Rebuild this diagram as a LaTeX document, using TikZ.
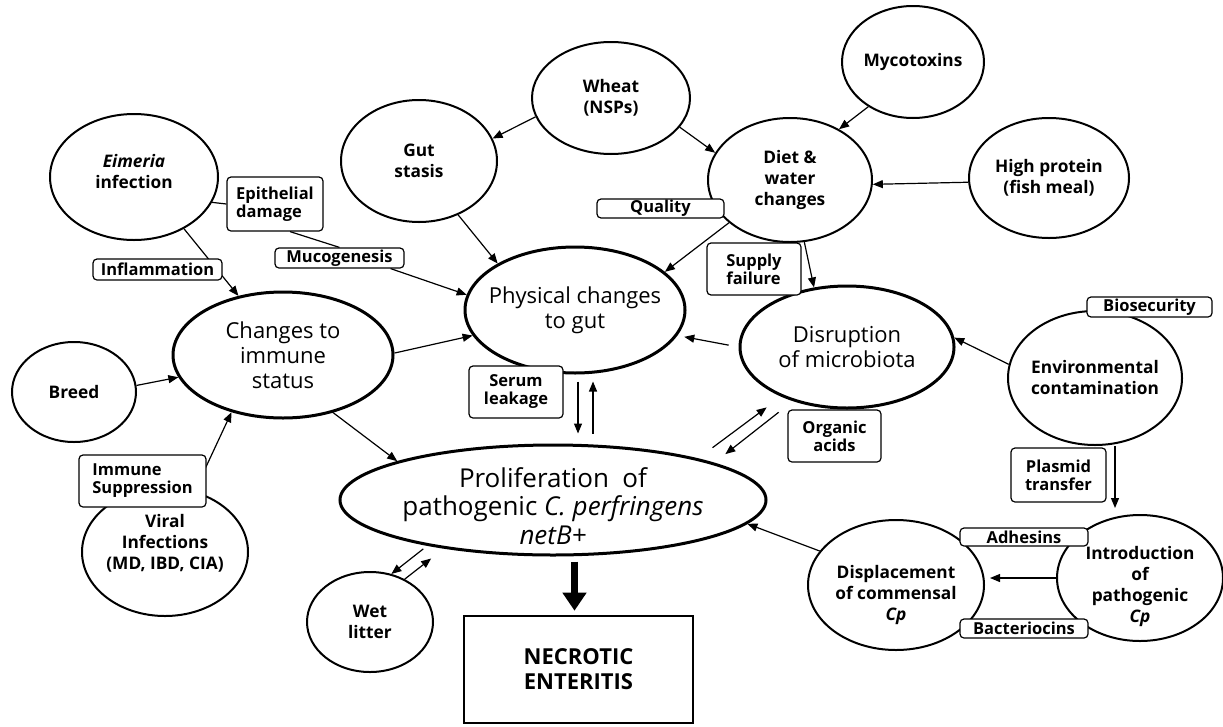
\documentclass[tikz,border=0pt]{standalone}
\usepackage{fontspec}
\setmainfont{Open Sans}
\usetikzlibrary{shapes.geometric,arrows.meta}

\begin{document}
\begin{tikzpicture}[x=1pt,y=-1pt,
  circ/.style={draw,ellipse,line width=2pt,inner sep=-20pt,align=center,
    font=\fontsize{17.3}{21}\selectfont\bfseries},
  bigcirc/.style={circ,line width=3pt,font=\fontsize{22}{25}\selectfont},
  tag/.style={draw,fill=white,rounded corners=4pt,line width=1.2pt,inner sep=0pt,
    align=center,font=\fontsize{16.5}{18}\selectfont\bfseries},
  arr/.style={-{Triangle[length=10pt,width=8pt]},line width=1.2pt},
  link/.style={line width=1.2pt}]
\path[fill=white] (0,0) rectangle (1223,726);
\useasboundingbox (0,0) rectangle (1223,726);

\node[circ,minimum width=168pt,minimum height=126pt] (eimeria) at (134,177) {\textit{Eimeria}\\infection\rule[-12pt]{0pt}{0pt}};
\node[circ,minimum width=156pt,minimum height=122pt] (gut) at (419,161) {Gut\\stasis};
\node[circ,minimum width=158pt,minimum height=112pt] (wheat) at (611,98) {Wheat\\(NSPs)};
\node[circ,minimum width=164pt,minimum height=124pt] (diet) at (790,180) {Diet \&\\water\\changes};
\node[circ,minimum width=142pt,minimum height=112pt] (myco) at (913,62) {Mycotoxins};
\node[circ,minimum width=160pt,minimum height=120pt] (protein) at (1049,178) {High protein\\(fish meal)};
\node[bigcirc,minimum width=220pt,minimum height=126pt] (physical) at (575,310) {Physical changes\\to gut};
\node[bigcirc,minimum width=220pt,minimum height=126pt] (immune) at (283,355) {Changes to\\immune\\status};
\node[bigcirc,minimum width=214pt,minimum height=122pt] (microbiota) at (847,347) {Disruption\\of microbiota};
\node[circ,minimum width=174pt,minimum height=134pt] (env) at (1095,378) {Environmental\\contamination};
\node[circ,minimum width=124pt,minimum height=100pt] (breed) at (74,392) {Breed};
\node[circ,minimum width=166pt,minimum height=128pt] (viral) at (165,552) {Viral\\Infections\\(MD, IBD, CIA)\rule[-20pt]{0pt}{0pt}};
\node[bigcirc,minimum width=426pt,minimum height=110pt,font=\fontsize{26}{28.5}\selectfont] (prolif) at (553,500)
  {\rule{0pt}{32pt}Proliferation~ of\\pathogenic \textit{C. perfringens}\\\textit{netB+}};
\node[circ,minimum width=126pt,minimum height=100pt] (wet) at (370,622) {Wet\\litter};
\node[circ,minimum width=166pt,minimum height=126pt] (intro) at (1140,578) {\rule{0pt}{31pt}Introduction\\of\\pathogenic\\\textit{Cp}};
\node[circ,minimum width=176pt,minimum height=130pt] (displace) at (896,585) {\rule{0pt}{33pt}Displacement\\of commensal\\\textit{Cp}};
\node[draw,line width=2.6pt,minimum width=229pt,minimum height=107pt,align=center,
  font=\fontsize{22}{25}\selectfont\bfseries] (ne) at (578.5,669.5) {NECROTIC\\ENTERITIS};

\draw[arr] (eimeria.314) -- (immune.127);
\draw[arr] (viral.64) -- (immune.228);

\node[tag,minimum width=96pt,minimum height=54pt,align=left] (epith) at (275,204) {Epithelial\\damage};
\node[tag,minimum width=129pt,minimum height=21pt] (inflam) at (157.5,269.5) {Inflammation};
\node[tag,minimum width=129pt,minimum height=20pt] (muco) at (339.5,258) {Mucogenesis};
\node[tag,minimum width=127pt,minimum height=19pt] (quality) at (660.5,208.5) {Quality};
\node[tag,minimum width=94pt,minimum height=52pt,align=left] (supply) at (754,269) {Supply\\failure};
\node[tag,minimum width=94pt,minimum height=52pt] (serum) at (516,392) {Serum\\leakage};
\node[tag,minimum width=93pt,minimum height=52pt] (acids) at (834.5,436) {Organic\\acids};
\node[tag,minimum width=125pt,minimum height=20pt] (biosec) at (1149.5,307) {Biosecurity};
\node[tag,minimum width=95pt,minimum height=54pt] (plasmid) at (1058.5,475) {Plasmid\\transfer};
\node[tag,minimum width=128pt,minimum height=18pt] (adhesins) at (1024,537) {Adhesins};
\node[tag,minimum width=128pt,minimum height=19pt] (bacterio) at (1024,628.5) {Bacteriocins};
\node[tag,minimum width=127pt,minimum height=52pt,align=left] (suppress) at (142.5,481) {Immune\\Suppression};

\draw[link] (eimeria.342) -- (epith.west);
\draw[link] ([xshift=15pt]epith.south) -- (muco.north);
\draw[arr] ([xshift=-14pt]muco.south east) -- (physical.172);
\draw[arr] (wheat.194) -- (gut.17);
\draw[arr] (wheat.337) -- (diet.160);
\draw[arr] (myco.225) -- (diet.46);
\draw[arr] (protein.183) -- (diet.357);
\draw[arr] (diet.215) -- (physical.23);
\draw[arr] (diet.283) -- (microbiota.119);
\draw[arr] (gut.306) -- (physical.149);
\draw[arr] (immune.1) -- (physical.194);
\draw[arr] (breed.6) -- (immune.192);
\draw[arr] (immune.311) -- (prolif.166);
\draw[arr,shorten <=7pt,shorten >=10pt] ([xshift=3pt]physical.south) -- ([xshift=3pt]physical.south |- prolif.north);
\draw[arr,shorten <=10pt,shorten >=7pt] ([xshift=18pt]physical.south |- prolif.north) -- ([xshift=18pt]physical.south);
\draw[arr,shorten <=18pt,shorten >=18pt] (prolif.16) -- (microbiota.217);
\draw[arr,shorten <=18pt,shorten >=14pt] (microbiota.225) -- (prolif.13);
\draw[arr,shorten <=10pt,shorten >=7pt] (microbiota.180) -- (physical.346);
\draw[arr] (env.171) -- (microbiota.5);
\draw[arr,shorten >=6pt] ([xshift=20pt]env.south) -- ([xshift=20pt]env.south |- intro.north);
\draw[arr,shorten >=5pt] (intro.west) -- (intro.west -| displace.east);
\draw[arr] (displace.156) -- (prolif.353);
\draw[arr,shorten <=5pt] (prolif.200) -- (wet.66);
\draw[arr,shorten >=16pt] (wet.51) -- (prolif.204);
\draw[line width=7pt,-{Triangle[length=18pt,width=23pt]},shorten <=5pt,shorten >=4pt]
  ([xshift=-4pt]ne.north |- prolif.south) -- ([xshift=-4pt]ne.north);
\end{tikzpicture}
\end{document}
